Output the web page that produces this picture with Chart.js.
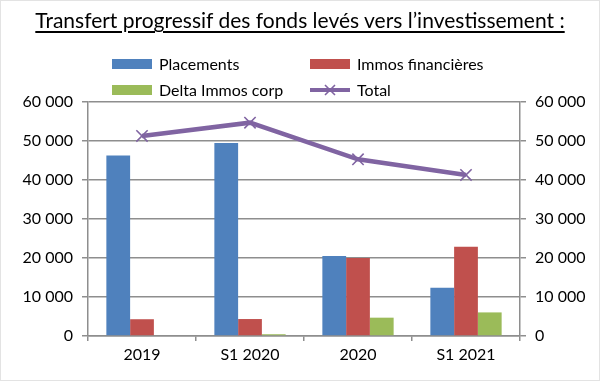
<!DOCTYPE html>
<html><head><meta charset="utf-8">
<script src="https://cdn.jsdelivr.net/npm/chart.js@4"></script>
<style>
html,body{margin:0;padding:0;background:#fff;}
#wrap{position:relative;width:600px;height:381px;overflow:hidden;font-family:Lato,"Open Sans",sans-serif;color:#000;}
#frame{position:absolute;left:0;top:0;width:598px;height:379px;border:1px solid #e3e3e3;pointer-events:none;}
#title{position:absolute;left:0;top:7px;width:600px;text-align:center;font-size:21px;text-decoration:underline;text-underline-offset:3px;text-decoration-thickness:1.5px;white-space:nowrap;}
canvas{position:absolute;left:0;top:0;}
#legend{position:absolute;left:0;top:0;}
.li{position:absolute;display:flex;align-items:center;font-size:16px;white-space:nowrap;}
.sw{width:40px;height:10px;margin-right:7px;}
.ln{width:40px;height:4px;margin-right:7px;position:relative;}
</style></head>
<body><div id="wrap">
<canvas id="c" width="600" height="381"></canvas>
<div id="title">Transfert progressif des fonds levés vers l’investissement :</div>
<div id="legend"></div>
<div id="frame"></div>
</div>
<script>
const categories = ["2019", "S1 2020", "2020", "S1 2021"];
const placements = [46300, 49500, 20500, 12400];
const immosFinancieres = [4300, 4350, 20000, 22900];
const deltaImmosCorp = [200, 450, 4700, 6050];
const total = [51300, 54700, 45300, 41300];
const yTicks = [0, 10000, 20000, 30000, 40000, 50000, 60000];
const seriesNames = ["Placements", "Immos financières", "Delta Immos corp", "Total"];
const colors = ["#4F81BD", "#C0504D", "#9BBB59", "#8064A2"];

const fmt = v => String(v).replace(/\B(?=(\d{3})+(?!\d))/g, " ");
const gridColor = "#8e8e8e";
const tickFont = {family: "Lato, 'Open Sans', sans-serif", size: 16};

// HTML legend
const legendPos = [[112, 65], [310, 65], [112, 91], [310, 91]];
const lg = document.getElementById("legend");
seriesNames.forEach((n, i) => {
  const d = document.createElement("div");
  d.className = "li";
  d.style.left = legendPos[i][0] + "px";
  d.style.top = (legendPos[i][1] - 11) + "px";
  const s = document.createElement("div");
  if (i < 3) { s.className = "sw"; s.style.background = colors[i]; }
  else {
    s.className = "ln"; s.style.background = colors[i];
    s.innerHTML = '<svg width="14" height="14" style="position:absolute;left:13px;top:-5px"><path d="M2 2L12 12M12 2L2 12" stroke="' + colors[i] + '" stroke-width="1.6"/></svg>';
  }
  const t = document.createElement("span"); t.textContent = n;
  d.appendChild(s); d.appendChild(t); lg.appendChild(d);
});

new Chart(document.getElementById("c"), {
  data: {
    labels: categories,
    datasets: [
      {type: "bar", label: seriesNames[0], data: placements, backgroundColor: colors[0], order: 1, yAxisID: "y"},
      {type: "bar", label: seriesNames[1], data: immosFinancieres, backgroundColor: colors[1], order: 1, yAxisID: "y"},
      {type: "bar", label: seriesNames[2], data: deltaImmosCorp, backgroundColor: colors[2], order: 1, yAxisID: "y"},
      {type: "line", label: seriesNames[3], data: total, borderColor: colors[3], backgroundColor: colors[3],
       borderWidth: 4.5, pointStyle: "crossRot", pointRadius: 8, pointBorderWidth: 1.6, pointBorderColor: colors[3],
       tension: 0, order: 0, yAxisID: "y"}
    ]
  },
  options: {
    responsive: false, animation: false,
    devicePixelRatio: 1,
    layout: {padding: {top: 102, left: 0, right: 0, bottom: 0}},
    plugins: {legend: {display: false}, title: {display: false}, tooltip: {enabled: false}},
    datasets: {bar: {categoryPercentage: 0.66, barPercentage: 1}},
    scales: {
      x: {
        offset: true,
        grid: {offset: true, drawOnChartArea: false, color: gridColor, lineWidth: 1.5, tickLength: 5},
        border: {color: gridColor, width: 1.5},
        ticks: {font: tickFont, color: "#000", padding: 4},
        afterFit: s => { s.height = 45; }
      },
      y: {
        position: "left", min: 0, max: 60000,
        afterBuildTicks: s => { s.ticks = yTicks.map(v => ({value: v})); },
        grid: {color: gridColor, lineWidth: 1.5, tickLength: 6},
        border: {color: gridColor, width: 1.5},
        ticks: {font: tickFont, color: "#000", padding: 9, callback: v => fmt(v)},
        afterFit: s => { s.width = 88; }
      },
      y2: {
        position: "right", min: 0, max: 60000,
        afterBuildTicks: s => { s.ticks = yTicks.map(v => ({value: v})); },
        grid: {drawOnChartArea: false, color: gridColor, lineWidth: 1.5, tickLength: 6},
        border: {color: gridColor, width: 1.5},
        ticks: {font: tickFont, color: "#000", padding: 9, callback: v => fmt(v)},
        afterFit: s => { s.width = 80; }
      }
    }
  }
});
</script>
</body></html>
